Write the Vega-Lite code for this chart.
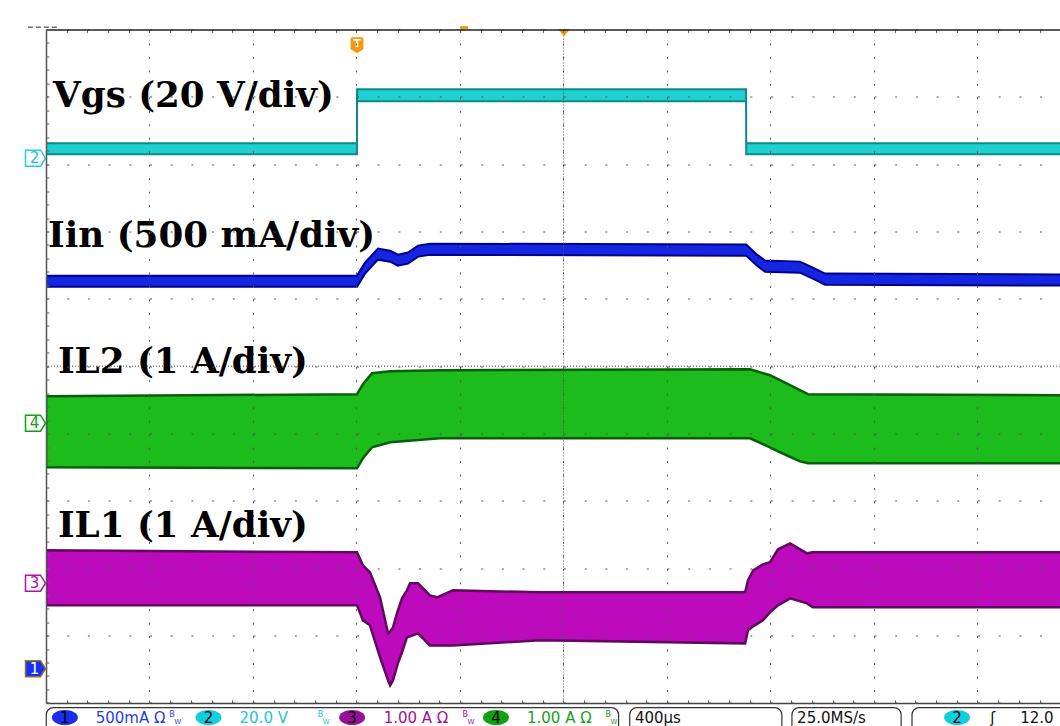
{
  "$schema": "https://vega.github.io/schema/vega-lite/v6.json",
  "width": 1014,
  "height": 673.4,
  "autosize": "none",
  "padding": {"left": 46, "top": 29.5, "right": 0, "bottom": 23.1},
  "background": "white",
  "config": {"view": {"stroke": null}},
  "datasets": {
    "vgs": [
      {"t": 0, "lo": 3.148, "hi": 3.312},
      {"t": 1201.8, "lo": 3.148, "hi": 3.312},
      {"t": 1202.2, "lo": 3.935, "hi": 4.113},
      {"t": 2705.8, "lo": 3.935, "hi": 4.113},
      {"t": 2706.2, "lo": 3.148, "hi": 3.312},
      {"t": 4000, "lo": 3.148, "hi": 3.312}
    ],
    "iin": [
      {"t": 0, "lo": 1.181, "hi": 1.345},
      {"t": 1202, "lo": 1.181, "hi": 1.345},
      {"t": 1233, "lo": 1.374, "hi": 1.538},
      {"t": 1283, "lo": 1.582, "hi": 1.746},
      {"t": 1330, "lo": 1.552, "hi": 1.716},
      {"t": 1360, "lo": 1.493, "hi": 1.657},
      {"t": 1399, "lo": 1.523, "hi": 1.687},
      {"t": 1438, "lo": 1.627, "hi": 1.791},
      {"t": 1484, "lo": 1.656, "hi": 1.82},
      {"t": 2706, "lo": 1.642, "hi": 1.806},
      {"t": 2748, "lo": 1.493, "hi": 1.657},
      {"t": 2779, "lo": 1.404, "hi": 1.568},
      {"t": 2914, "lo": 1.389, "hi": 1.553},
      {"t": 2964, "lo": 1.3, "hi": 1.464},
      {"t": 3011, "lo": 1.211, "hi": 1.375},
      {"t": 4000, "lo": 1.196, "hi": 1.36}
    ],
    "il2": [
      {"t": 0, "lo": -1.501, "hi": -0.446},
      {"t": 1202, "lo": -1.516, "hi": -0.416},
      {"t": 1225, "lo": -1.367, "hi": -0.267},
      {"t": 1260, "lo": -1.204, "hi": -0.104},
      {"t": 1330, "lo": -1.129, "hi": -0.074},
      {"t": 1523, "lo": -1.07, "hi": -0.059},
      {"t": 2721, "lo": -1.07, "hi": -0.045},
      {"t": 2798, "lo": -1.204, "hi": -0.134},
      {"t": 2837, "lo": -1.278, "hi": -0.208},
      {"t": 2914, "lo": -1.412, "hi": -0.357},
      {"t": 2945, "lo": -1.441, "hi": -0.416},
      {"t": 4000, "lo": -1.441, "hi": -0.431}
    ],
    "il1": [
      {"t": 0, "lo": -3.551, "hi": -2.734},
      {"t": 1202, "lo": -3.551, "hi": -2.764},
      {"t": 1225, "lo": -3.774, "hi": -2.957},
      {"t": 1252, "lo": -3.848, "hi": -3.061},
      {"t": 1291, "lo": -4.324, "hi": -3.432},
      {"t": 1322, "lo": -4.666, "hi": -3.967},
      {"t": 1330, "lo": -4.74, "hi": -3.938},
      {"t": 1341, "lo": -4.666, "hi": -3.878},
      {"t": 1360, "lo": -4.413, "hi": -3.626},
      {"t": 1376, "lo": -4.25, "hi": -3.447},
      {"t": 1395, "lo": -4.027, "hi": -3.328},
      {"t": 1407, "lo": -4.012, "hi": -3.224},
      {"t": 1438, "lo": -3.967, "hi": -3.224},
      {"t": 1484, "lo": -4.146, "hi": -3.403},
      {"t": 1511, "lo": -4.146, "hi": -3.432},
      {"t": 1573, "lo": -4.146, "hi": -3.328},
      {"t": 1909, "lo": -4.071, "hi": -3.358},
      {"t": 2702, "lo": -4.116, "hi": -3.358},
      {"t": 2713, "lo": -3.923, "hi": -3.18},
      {"t": 2733, "lo": -3.863, "hi": -3.031},
      {"t": 2771, "lo": -3.774, "hi": -2.942},
      {"t": 2798, "lo": -3.655, "hi": -2.912},
      {"t": 2829, "lo": -3.551, "hi": -2.719},
      {"t": 2876, "lo": -3.447, "hi": -2.63},
      {"t": 2941, "lo": -3.522, "hi": -2.779},
      {"t": 2964, "lo": -3.581, "hi": -2.764},
      {"t": 4000, "lo": -3.581, "hi": -2.764}
    ],
    "labels": [
      {"label": "Vgs (20 V/div)", "t": 27, "v": 3.846},
      {"label": "Iin (500 mA/div)", "t": 8, "v": 1.772},
      {"label": "IL2 (1 A/div)", "t": 46, "v": -0.104},
      {"label": "IL1 (1 A/div)", "t": 46, "v": -2.539}
    ],
    "markers": [
      {"ch": "1", "t": -40.6, "v": -4.492},
      {"ch": "2", "t": -40.6, "v": 3.089},
      {"ch": "3", "t": -40.6, "v": -3.222},
      {"ch": "4", "t": -40.6, "v": -0.846}
    ],
    "boxes": [
      {"t1": 1, "t2": 2213},
      {"t1": 2256, "t2": 2844},
      {"t1": 2883, "t2": 3305},
      {"t1": 3347, "t2": 3977}
    ],
    "badges": [
      {"ch": "1", "t": 73},
      {"ch": "2", "t": 628},
      {"ch": "3", "t": 1183},
      {"ch": "4", "t": 1739},
      {"ch": "2", "t": 3521}
    ],
    "status": [
      {"ch": "1", "t": 192, "txt": "500mA Ω"},
      {"ch": "2", "t": 748, "txt": "20.0 V"},
      {"ch": "3", "t": 1305, "txt": "1.00 A Ω"},
      {"ch": "4", "t": 1859, "txt": "1.00 A Ω"},
      {"ch": "0", "t": 2276, "txt": "400µs"},
      {"ch": "0", "t": 2903, "txt": "25.0MS/s"},
      {"ch": "0", "t": 3649, "txt": "ʃ"},
      {"ch": "0", "t": 3765, "txt": "12.0"}
    ],
    "bw": [
      {"ch": "1", "t": 476},
      {"ch": "2", "t": 1050},
      {"ch": "3", "t": 1610},
      {"ch": "4", "t": 2162}
    ]
  },
  "layer": [
    {
      "data": {"name": "il1"},
      "mark": {"type": "area", "fill": "#bc0abc", "stroke": "#5e0a5e", "strokeWidth": 2.5, "clip": true, "orient": "vertical"},
      "encoding": {
        "x": {"field": "t", "type": "quantitative", "scale": {"domain": [0, 3919], "nice": false, "zero": false},
          "axis": {"orient": "bottom", "values": [0,80,160,240,320,400,480,560,640,720,800,880,960,1040,1120,1200,1280,1360,1440,1520,1600,1680,1760,1840,1920,2000,2080,2160,2240,2320,2400,2480,2560,2640,2720,2800,2880,2960,3040,3120,3200,3280,3360,3440,3520,3600,3680,3760,3840],
            "grid": true, "gridDash": [2, 11.47], "gridColor": "#555", "gridWidth": 1,
            "gridOpacity": {"condition": {"test": "datum.value % 400 === 0", "value": 1}, "value": 0},
            "ticks": true, "tickSize": -3, "tickColor": "#666", "tickWidth": 1,
            "domain": true, "domainColor": "#444", "domainWidth": 1.5, "labels": false, "title": null, "zindex": 1}},
        "y": {"field": "lo", "type": "quantitative", "scale": {"domain": [-5, 5], "nice": false, "zero": false},
          "axis": {"orient": "left", "values": [-5,-4.8,-4.6,-4.4,-4.2,-4,-3.8,-3.6,-3.4,-3.2,-3,-2.8,-2.6,-2.4,-2.2,-2,-1.8,-1.6,-1.4,-1.2,-1,-0.8,-0.6,-0.4,-0.2,0,0.2,0.4,0.6,0.8,1,1.2,1.4,1.6,1.8,2,2.2,2.4,2.6,2.8,3,3.2,3.4,3.6,3.8,4,4.2,4.4,4.6,4.8,5],
            "grid": true, "gridDash": [2, 18.7], "gridColor": "#555", "gridWidth": 1,
            "gridOpacity": {"condition": {"test": "abs(datum.value - round(datum.value)) < 0.01", "value": 1}, "value": 0},
            "ticks": true, "tickSize": -3, "tickColor": "#666", "tickWidth": 1,
            "domain": true, "domainColor": "#555", "domainWidth": 1.5, "labels": false, "title": null, "zindex": 1}},
        "y2": {"field": "hi"}
      }
    },
    {
      "data": {"name": "il2"},
      "mark": {"type": "area", "fill": "#1cbc1c", "stroke": "#0a5e0a", "strokeWidth": 2.5, "clip": true, "orient": "vertical"},
      "encoding": {
        "x": {"field": "t", "type": "quantitative", "scale": {"domain": [0, 3919], "nice": false, "zero": false},
          "axis": {"orient": "top", "values": [0,80,160,240,320,400,480,560,640,720,800,880,960,1040,1120,1200,1280,1360,1440,1520,1600,1680,1760,1840,1920,2000,2080,2160,2240,2320,2400,2480,2560,2640,2720,2800,2880,2960,3040,3120,3200,3280,3360,3440,3520,3600,3680,3760,3840],
            "grid": false, "ticks": true, "tickSize": -3, "tickColor": "#666", "tickWidth": 1,
            "domain": true, "domainColor": "#222", "domainWidth": 1.5, "labels": false, "title": null, "zindex": 1}},
        "y": {"field": "lo", "type": "quantitative", "scale": {"domain": [-5, 5], "nice": false, "zero": false}, "axis": null},
        "y2": {"field": "hi"}
      }
    },
    {
      "data": {"name": "iin"},
      "mark": {"type": "area", "fill": "#1426e0", "stroke": "#000090", "strokeWidth": 2, "clip": true, "orient": "vertical"},
      "encoding": {
        "x": {"field": "t", "type": "quantitative", "scale": {"domain": [0, 3919], "nice": false, "zero": false}, "axis": null},
        "y": {"field": "lo", "type": "quantitative", "scale": {"domain": [-5, 5], "nice": false, "zero": false}, "axis": null},
        "y2": {"field": "hi"}
      }
    },
    {
      "data": {"name": "vgs"},
      "mark": {"type": "area", "fill": "#20d0d0", "stroke": "#0b8a8a", "strokeWidth": 2, "clip": true, "orient": "vertical"},
      "encoding": {
        "x": {"field": "t", "type": "quantitative", "scale": {"domain": [0, 3919], "nice": false, "zero": false}, "axis": null},
        "y": {"field": "lo", "type": "quantitative", "scale": {"domain": [-5, 5], "nice": false, "zero": false}, "axis": null},
        "y2": {"field": "hi"}
      }
    },
    {
      "data": {"values": [{}]},
      "mark": {"type": "rule", "color": "#555", "strokeDash": [1, 2], "strokeWidth": 1},
      "encoding": {"x": {"datum": 2000, "type": "quantitative", "scale": {"domain": [0, 3919], "nice": false, "zero": false}, "axis": null}}
    },
    {
      "data": {"values": [{}]},
      "mark": {"type": "rule", "color": "#555", "strokeDash": [1, 2], "strokeWidth": 1},
      "encoding": {"y": {"datum": 0, "type": "quantitative", "scale": {"domain": [-5, 5], "nice": false, "zero": false}, "axis": null}}
    },
    {
      "data": {"name": "labels"},
      "mark": {"type": "text", "font": "DejaVu Serif", "fontWeight": "bold", "fontSize": 35.7, "align": "left", "baseline": "alphabetic", "color": "#000"},
      "encoding": {
        "x": {"field": "t", "type": "quantitative", "scale": {"domain": [0, 3919], "nice": false, "zero": false}, "axis": null},
        "y": {"field": "v", "type": "quantitative", "scale": {"domain": [-5, 5], "nice": false, "zero": false}, "axis": null},
        "text": {"field": "label"}
      }
    },
    {
      "data": {"name": "markers"},
      "mark": {"type": "point", "shape": "M-1,-0.8L0.5,-0.8L1,0L0.5,0.8L-1,0.8Z", "size": 400, "filled": true, "strokeWidth": 1.5, "opacity": 1, "clip": false},
      "encoding": {
        "x": {"field": "t", "type": "quantitative", "scale": {"domain": [0, 3919], "nice": false, "zero": false}, "axis": null},
        "y": {"field": "v", "type": "quantitative", "scale": {"domain": [-5, 5], "nice": false, "zero": false}, "axis": null},
        "fill": {"field": "ch", "type": "nominal", "scale": {"domain": ["1", "2", "3", "4"], "range": ["#1830f0", "#ffffff", "#ffffff", "#ffffff"]}, "legend": null},
        "stroke": {"field": "ch", "type": "nominal", "scale": {"domain": ["1", "2", "3", "4"], "range": ["#8a7a20", "#20d0e0", "#b010b0", "#10a010"]}, "legend": null}
      }
    },
    {
      "data": {"name": "markers"},
      "mark": {"type": "text", "font": "DejaVu Sans", "fontSize": 15, "align": "center", "baseline": "middle", "dx": -1, "clip": false},
      "encoding": {
        "x": {"field": "t", "type": "quantitative", "scale": {"domain": [0, 3919], "nice": false, "zero": false}, "axis": null},
        "y": {"field": "v", "type": "quantitative", "scale": {"domain": [-5, 5], "nice": false, "zero": false}, "axis": null},
        "text": {"field": "ch"},
        "color": {"field": "ch", "type": "nominal", "scale": {"domain": ["1", "2", "3", "4"], "range": ["#ffffff", "#10c8d8", "#b010b0", "#10a010"]}, "legend": null}
      }
    },
    {
      "data": {"values": [{}]},
      "mark": {"type": "point", "shape": "M-0.6,-1L0.6,-1Q0.8,-1 0.8,-0.8L0.8,0.5L0,1L-0.8,0.5L-0.8,-0.8Q-0.8,-1 -0.6,-1Z", "size": 256, "filled": true, "color": "#f59a10", "opacity": 1, "clip": false},
      "encoding": {
        "x": {"datum": 1202, "type": "quantitative", "scale": {"domain": [0, 3919], "nice": false, "zero": false}, "axis": null},
        "y": {"datum": 4.767, "type": "quantitative", "scale": {"domain": [-5, 5], "nice": false, "zero": false}, "axis": null}
      }
    },
    {
      "data": {"values": [{"txt": "T"}]},
      "mark": {"type": "text", "font": "DejaVu Sans", "fontWeight": "bold", "fontSize": 11, "color": "#ffffff", "align": "center", "baseline": "middle", "dy": -1, "clip": false},
      "encoding": {
        "x": {"datum": 1202, "type": "quantitative", "scale": {"domain": [0, 3919], "nice": false, "zero": false}, "axis": null},
        "y": {"datum": 4.767, "type": "quantitative", "scale": {"domain": [-5, 5], "nice": false, "zero": false}, "axis": null},
        "text": {"field": "txt"}
      }
    },
    {
      "data": {"values": [{}]},
      "mark": {"type": "point", "shape": "M-1,-0.58L1,-0.58L0,0.58Z", "size": 144, "filled": true, "color": "#f59a10", "opacity": 1, "clip": false},
      "encoding": {
        "x": {"datum": 2002, "type": "quantitative", "scale": {"domain": [0, 3919], "nice": false, "zero": false}, "axis": null},
        "y": {"datum": 4.951, "type": "quantitative", "scale": {"domain": [-5, 5], "nice": false, "zero": false}, "axis": null}
      }
    },
    {
      "data": {"values": [{}]},
      "mark": {"type": "point", "shape": "M-1,-0.4L1,-0.4L1,0.4L-1,0.4Z", "size": 64, "filled": true, "color": "#f59a10", "opacity": 1, "clip": false},
      "encoding": {
        "x": {"datum": 1616, "type": "quantitative", "scale": {"domain": [0, 3919], "nice": false, "zero": false}, "axis": null},
        "y": {"datum": 5.027, "type": "quantitative", "scale": {"domain": [-5, 5], "nice": false, "zero": false}, "axis": null}
      }
    },
    {
      "data": {"values": [{}]},
      "mark": {"type": "rule", "color": "#222", "strokeDash": [5, 3], "strokeWidth": 1, "clip": false},
      "encoding": {
        "x": {"datum": -70, "type": "quantitative", "scale": {"domain": [0, 3919], "nice": false, "zero": false}, "axis": null},
        "x2": {"datum": 43},
        "y": {"datum": 5.035, "type": "quantitative", "scale": {"domain": [-5, 5], "nice": false, "zero": false}, "axis": null}
      }
    },
    {
      "data": {"name": "boxes"},
      "mark": {"type": "rect", "fill": null, "fillOpacity": 0, "stroke": "#333", "strokeWidth": 1.2, "cornerRadius": 7, "clip": false},
      "encoding": {
        "x": {"field": "t1", "type": "quantitative", "scale": {"domain": [0, 3919], "nice": false, "zero": false}, "axis": null},
        "x2": {"field": "t2"},
        "y": {"datum": -5.071, "type": "quantitative", "scale": {"domain": [-5, 5], "nice": false, "zero": false}, "axis": null},
        "y2": {"datum": -5.45}
      }
    },
    {
      "data": {"name": "badges"},
      "mark": {"type": "point", "shape": "M-1,0A1,0.58 0 1,1 1,0A1,0.58 0 1,1 -1,0Z", "size": 676, "filled": true, "opacity": 1, "clip": false},
      "encoding": {
        "x": {"field": "t", "type": "quantitative", "scale": {"domain": [0, 3919], "nice": false, "zero": false}, "axis": null},
        "y": {"datum": -5.217, "type": "quantitative", "scale": {"domain": [-5, 5], "nice": false, "zero": false}, "axis": null},
        "fill": {"field": "ch", "type": "nominal", "scale": {"domain": ["1", "2", "3", "4"], "range": ["#1a2ef0", "#10d0e0", "#9a109a", "#10a010"]}, "legend": null}
      }
    },
    {
      "data": {"name": "badges"},
      "mark": {"type": "text", "font": "DejaVu Sans", "fontSize": 15, "align": "center", "baseline": "middle", "color": "#000", "clip": false},
      "encoding": {
        "x": {"field": "t", "type": "quantitative", "scale": {"domain": [0, 3919], "nice": false, "zero": false}, "axis": null},
        "y": {"datum": -5.217, "type": "quantitative", "scale": {"domain": [-5, 5], "nice": false, "zero": false}, "axis": null},
        "text": {"field": "ch"}
      }
    },
    {
      "data": {"name": "status"},
      "mark": {"type": "text", "font": "DejaVu Sans", "fontSize": 15, "align": "left", "baseline": "middle", "clip": false},
      "encoding": {
        "x": {"field": "t", "type": "quantitative", "scale": {"domain": [0, 3919], "nice": false, "zero": false}, "axis": null},
        "y": {"datum": -5.217, "type": "quantitative", "scale": {"domain": [-5, 5], "nice": false, "zero": false}, "axis": null},
        "text": {"field": "txt"},
        "color": {"field": "ch", "type": "nominal", "scale": {"domain": ["0", "1", "2", "3", "4"], "range": ["#111111", "#1f3fe0", "#18c8d8", "#a010a0", "#20a020"]}, "legend": null}
      }
    },
    {
      "data": {"name": "bw"},
      "mark": {"type": "text", "font": "DejaVu Sans", "fontSize": 8, "align": "left", "baseline": "middle", "dy": -3, "text": "B", "clip": false},
      "encoding": {
        "x": {"field": "t", "type": "quantitative", "scale": {"domain": [0, 3919], "nice": false, "zero": false}, "axis": null},
        "y": {"datum": -5.217, "type": "quantitative", "scale": {"domain": [-5, 5], "nice": false, "zero": false}, "axis": null},
        "color": {"field": "ch", "type": "nominal", "scale": {"domain": ["1", "2", "3", "4"], "range": ["#1f3fe0", "#18c8d8", "#a010a0", "#20a020"]}, "legend": null}
      }
    },
    {
      "data": {"name": "bw"},
      "mark": {"type": "text", "font": "DejaVu Sans", "fontSize": 7, "align": "left", "baseline": "middle", "dx": 5, "dy": 4, "text": "W", "clip": false},
      "encoding": {
        "x": {"field": "t", "type": "quantitative", "scale": {"domain": [0, 3919], "nice": false, "zero": false}, "axis": null},
        "y": {"datum": -5.217, "type": "quantitative", "scale": {"domain": [-5, 5], "nice": false, "zero": false}, "axis": null},
        "color": {"field": "ch", "type": "nominal", "scale": {"domain": ["1", "2", "3", "4"], "range": ["#1f3fe0", "#18c8d8", "#a010a0", "#20a020"]}, "legend": null}
      }
    }
  ],
  "resolve": {
    "scale": {"color": "independent", "fill": "independent", "stroke": "independent"},
    "axis": {"x": "independent", "y": "independent"}
  }
}
